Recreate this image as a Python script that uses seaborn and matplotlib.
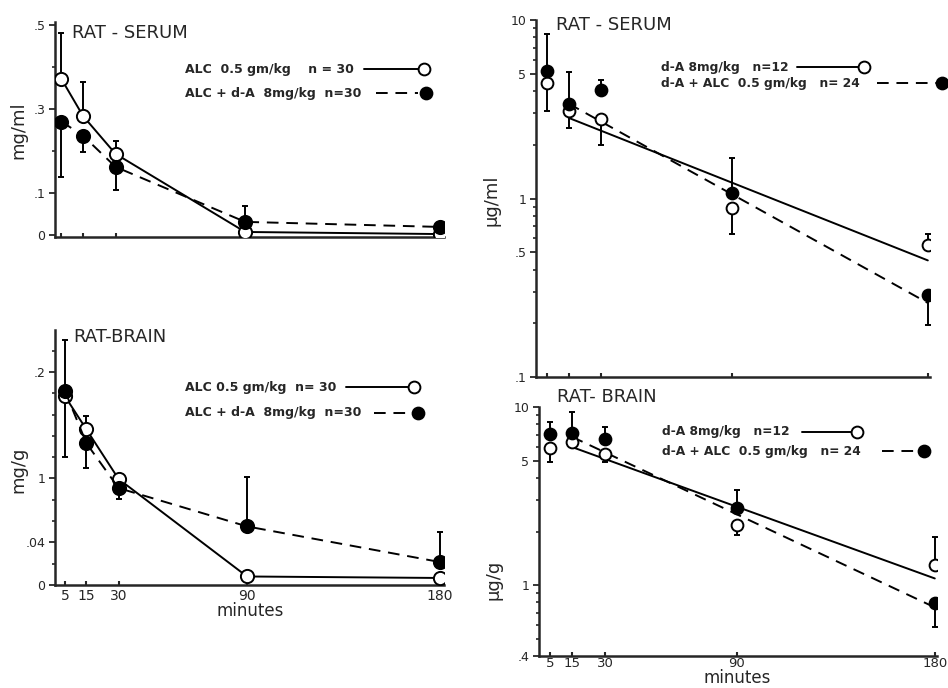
import matplotlib
matplotlib.use("Agg")
import numpy as np
import matplotlib.pyplot as plt
import seaborn as sns
from matplotlib.lines import Line2D

# sampling times (minutes)
minutes = [5, 15, 30, 90, 180]

# left column: alcohol, rat serum (mg/ml)
serum_alc = [0.371, 0.283, 0.193, 0.007, 0.002]
serum_alc_bar = [0.48, 0.364, 0.224, np.nan, np.nan]
serum_alc_da = [0.270, 0.236, 0.162, 0.031, 0.019]
serum_alc_da_bar = [0.138, 0.197, 0.107, 0.069, np.nan]

# left column: alcohol, rat brain (mg/g)
brain_alc = [0.177, 0.146, 0.0995, 0.008, 0.0066]
brain_alc_bar = [0.12, 0.159, np.nan, np.nan, np.nan]
brain_alc_da = [0.182, 0.133, 0.091, 0.055, 0.0216]
brain_alc_da_bar = [0.23, 0.11, 0.081, 0.101, 0.05]

# right column: d-amphetamine, rat serum (ug/ml)
serum_da = [4.41, 3.10, 2.80, 0.88, 0.55]
serum_da_bar = [3.10, 2.48, 2.00, 0.63, 0.63]
serum_da_alc = [5.2, 3.4, 4.07, 1.08, 0.287]
serum_da_alc_bar = [8.4, 5.1, 4.6, 1.68, 0.195]

# right column: d-amphetamine, rat brain (ug/g)
brain_da = [5.9, 6.4, 5.45, 2.17, 1.3]
brain_da_bar = [4.9, np.nan, 4.9, 1.9, 1.86]
brain_da_alc = [7.05, 7.1, 6.6, 2.7, 0.79]
brain_da_alc_bar = [8.2, 9.4, 7.7, 3.4, 0.58]

# fitted decay lines (log panels)
fit_t = [15, 180]
serum_da_fit = [2.83, 0.45]
serum_da_alc_fit = [3.4, 0.26]
brain_da_fit = [5.96, 1.09]
brain_da_alc_fit = [6.8, 0.75]

W, H = 948, 688
DASH = (0, (6, 4))

sns.set_style("ticks")
plt.rcParams['font.family'] = ['DejaVu Sans']

fig = plt.figure(figsize=(W / 100, H / 100), dpi=100)


def px(x, y):
    return x / W, 1 - y / H


def add_panel(left, top, right, bottom):
    return fig.add_axes([left / W, 1 - bottom / H, (right - left) / W, (bottom - top) / H])


def err_bars(ax, vals, ends):
    for t, v, e in zip(minutes, vals, ends):
        if np.isnan(e):
            continue
        yerr = [[max(v - e, 0)], [max(e - v, 0)]]
        ax.errorbar([t], [v], yerr=yerr, fmt='none', ecolor='k', elinewidth=1.4,
                    capsize=2.5, capthick=1.4, zorder=2)


def style_axes(ax, major, labels, minor, xlabels, xpad=4, xsize=10):
    for s in ['top', 'right']:
        ax.spines[s].set_visible(False)
    for s in ['left', 'bottom']:
        ax.spines[s].set_linewidth(1.8)
    ax.set_yticks(major)
    ax.set_yticklabels(labels, fontsize=9)
    ax.set_yticks(minor, minor=True)
    ax.set_xticks(minutes)
    ax.set_xticks([], minor=True)
    if xlabels:
        ax.set_xticklabels([str(m) for m in minutes], fontsize=xsize)
    else:
        ax.set_xticklabels([])
    ax.tick_params(axis='x', direction='in', length=3, width=1.5, pad=xpad)
    ax.tick_params(axis='y', which='major', direction='out', length=4, width=1.3, pad=3)
    ax.tick_params(axis='y', which='minor', direction='out', length=2.5, width=1.2)
    ax.set_xlabel('')
    ax.set_ylabel('')


def legend_row(text, tx, ty, x0, x1, mx, filled, size=9):
    fig.text(*px(tx, ty), text, fontsize=size, fontweight='bold', ha='left', va='center')
    a, b = px(x0, ty)
    c, _ = px(x1, ty)
    fig.add_artist(Line2D([a, c], [b, b], transform=fig.transFigure, color='k', lw=1.4,
                          linestyle=DASH if filled else '-'))
    m, _ = px(mx, ty)
    fig.add_artist(Line2D([m], [b], transform=fig.transFigure, marker='o', markersize=8.5,
                          markerfacecolor='k' if filled else 'white', markeredgecolor='k',
                          markeredgewidth=1.4, linestyle='none'))


def connected(ax, vals, filled, ms=9.5):
    sns.lineplot(x=minutes, y=vals, ax=ax, color='k', lw=1.4,
                 linestyle=DASH if filled else '-', marker='o', markersize=ms,
                 markerfacecolor='k' if filled else 'white', markeredgecolor='k',
                 markeredgewidth=1.4, zorder=4 if filled else 3)


def scattered(ax, vals, fit, filled, ms=8.5):
    sns.lineplot(x=fit_t, y=fit, ax=ax, color='k', lw=1.4,
                 linestyle=DASH if filled else '-', zorder=2)
    sns.scatterplot(x=minutes, y=vals, ax=ax, s=ms ** 2,
                    color='k' if filled else 'white', edgecolor='k', linewidth=1.4,
                    zorder=4 if filled else 3)


# ---- top left: serum alcohol
ax1 = add_panel(55, 22, 444, 237)
err_bars(ax1, serum_alc, serum_alc_bar)
err_bars(ax1, serum_alc_da, serum_alc_da_bar)
connected(ax1, serum_alc, False)
connected(ax1, serum_alc_da, True)
ax1.set_xlim(2, 182)
ax1.set_ylim(-0.005, 0.507)
style_axes(ax1, [0, 0.1, 0.3, 0.5], ['0', '.1', '.3', '.5'], [0.2, 0.4], False)

# ---- bottom left: brain alcohol
ax2 = add_panel(55, 330, 444, 585)
err_bars(ax2, brain_alc, brain_alc_bar)
err_bars(ax2, brain_alc_da, brain_alc_da_bar)
connected(ax2, brain_alc, False)
connected(ax2, brain_alc_da, True)
ax2.set_xlim(0.3, 182)
ax2.set_ylim(0, 0.2394)
style_axes(ax2, [0, 0.04, 0.1, 0.2], ['0', '.04', '1', '.2'],
           [0.02, 0.06, 0.08, 0.12, 0.14, 0.16, 0.18, 0.22], True, xpad=3)

# ---- top right: serum amphetamine (log)
ax3 = add_panel(536, 20, 930, 377)
ax3.set_yscale('log')
err_bars(ax3, serum_da, serum_da_bar)
err_bars(ax3, serum_da_alc, serum_da_alc_bar)
scattered(ax3, serum_da, serum_da_fit, False)
scattered(ax3, serum_da_alc, serum_da_alc_fit, True)
ax3.set_xlim(0, 181)
ax3.set_ylim(0.1, 10)
minor3 = [v * d for d in (0.1, 1) for v in range(2, 10) if v != 5]
style_axes(ax3, [0.1, 0.5, 1, 5, 10], ['.1', '.5', '1', '5', '10'], minor3, False)

# ---- bottom right: brain amphetamine (log)
ax4 = add_panel(539, 407, 937, 656)
ax4.set_yscale('log')
err_bars(ax4, brain_da, brain_da_bar)
err_bars(ax4, brain_da_alc, brain_da_alc_bar)
scattered(ax4, brain_da, brain_da_fit, False)
scattered(ax4, brain_da_alc, brain_da_alc_fit, True)
ax4.set_xlim(0, 181)
ax4.set_ylim(0.4, 10)
minor4 = [0.5, 0.6, 0.7, 0.8, 0.9, 2, 3, 4, 6, 7, 8, 9]
style_axes(ax4, [0.4, 1, 5, 10], ['.4', '1', '5', '10'], minor4, True, xpad=1, xsize=9.5)

# ---- titles, axis labels
fig.text(*px(72, 33), 'RAT - SERUM', fontsize=13, ha='left', va='center')
fig.text(*px(73, 337), 'RAT-BRAIN', fontsize=13, ha='left', va='center')
fig.text(*px(556, 25), 'RAT - SERUM', fontsize=13, ha='left', va='center')
fig.text(*px(557, 397), 'RAT- BRAIN', fontsize=13, ha='left', va='center')

fig.text(*px(18, 130), 'mg/ml', fontsize=13, rotation=90, ha='center', va='center')
fig.text(*px(18, 470), 'mg/g', fontsize=13, rotation=90, ha='center', va='center')
fig.text(*px(492, 200), 'µg/ml', fontsize=13, rotation=90, ha='center', va='center')
fig.text(*px(494, 580), 'µg/g', fontsize=13, rotation=90, ha='center', va='center')

fig.text(*px(250, 611), 'minutes', fontsize=12, ha='center', va='center')
fig.text(*px(737, 687), 'minutes', fontsize=12, ha='center', va='bottom')

# ---- legends
legend_row('ALC  0.5 gm/kg    n = 30', 185, 69, 364, 418, 424, False)
legend_row('ALC + d-A  8mg/kg  n=30', 185, 93, 376, 418, 426, True)
legend_row('ALC 0.5 gm/kg  n= 30', 185, 387, 346, 408, 414, False)
legend_row('ALC + d-A  8mg/kg  n=30', 185, 413, 374, 412, 418, True)
legend_row('d-A 8mg/kg   n=12', 661, 67, 797, 858, 864, False, size=8.8)
legend_row('d-A + ALC  0.5 gm/kg   n= 24', 661, 83, 877, 936, 942, True, size=8.8)
legend_row('d-A 8mg/kg   n=12', 662, 432, 802, 851, 857, False, size=8.8)
legend_row('d-A + ALC  0.5 gm/kg   n= 24', 662, 451, 882, 918, 924, True, size=8.8)

fig.savefig('out.png', dpi=100)
